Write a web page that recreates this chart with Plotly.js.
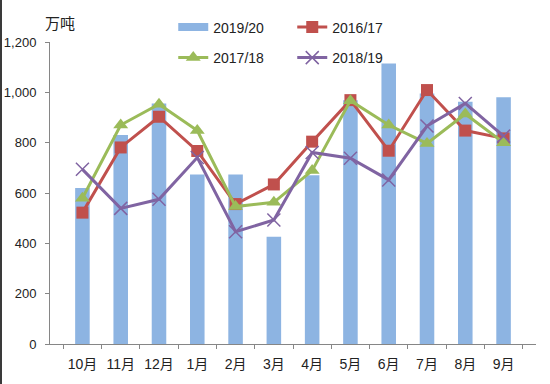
<!DOCTYPE html>
<html>
<head>
<meta charset="utf-8">
<script src="https://cdn.plot.ly/plotly-3.0.1.min.js"></script>
<style>
  html, body { margin: 0; padding: 0; background: #fff; }
  #chart { width: 550px; height: 384px; }
  #edge { position: absolute; left: 0; top: 0; width: 2px; height: 384px; background: #3a3a3a; }
</style>
</head>
<body>
<div id="chart"></div>
<div id="edge"></div>
<script>
const months = ["10月","11月","12月","1月","2月","3月","4月","5月","6月","7月","8月","9月"];
const s1920 = [620, 830, 956, 674, 674, 426, 671, 969, 1115, 995, 963, 980];
const s1617 = [522, 781, 903, 767, 556, 634, 804, 969, 768, 1009, 848, 817];
const s1718 = [579, 870, 953, 848, 546, 563, 689, 967, 870, 797, 914, 800];
const s1819 = [694, 539, 575, 741, 446, 493, 761, 738, 652, 866, 956, 826];
const yTicks = [0, 200, 400, 600, 800, 1000, 1200];

const font = "Liberation Sans, Noto Sans CJK SC, sans-serif";
const barColor = "#8DB4E2";

const traces = [
  { type: "bar", name: "2019/20", x: months, y: s1920,
    marker: { color: barColor }, showlegend: false },
  // legend-only entry giving the wide rectangular swatch of the bar series
  { type: "scatter", mode: "lines", name: "2019/20", x: [null], y: [null],
    line: { color: barColor, width: 8 }, legend: "legend" },
  { type: "scatter", mode: "lines+markers", name: "2016/17", x: months, y: s1617,
    line: { color: "#C0504D", width: 3 }, marker: { symbol: "square", size: 12, color: "#C0504D" }, legend: "legend" },
  { type: "scatter", mode: "lines+markers", name: "2017/18", x: months, y: s1718,
    line: { color: "#9BBB59", width: 3 }, marker: { symbol: "triangle-up", size: 13, color: "#9BBB59" }, legend: "legend2" },
  { type: "scatter", mode: "lines+markers", name: "2018/19", x: months, y: s1819,
    line: { color: "#8064A2", width: 3 }, marker: { symbol: "x-thin", size: 13, line: { color: "#8064A2", width: 1.5 } }, legend: "legend2" }
];

const legendCommon = {
  orientation: "h", xref: "paper", yref: "paper", xanchor: "left", yanchor: "middle",
  font: { family: font, size: 14, color: "#222" }, bgcolor: "rgba(0,0,0,0)",
  entrywidth: 74, entrywidthmode: "pixels", itemwidth: 30, tracegroupgap: 0
};

const layout = {
  width: 550, height: 384,
  margin: { l: 50, r: 14, t: 42, b: 40 },
  paper_bgcolor: "#fff", plot_bgcolor: "#fff",
  bargap: 0.62,
  showlegend: true,
  legend: Object.assign({}, legendCommon, { x: 0.2536, y: 1.048 }),
  legend2: Object.assign({}, legendCommon, { x: 0.2536, y: 0.947 }),
  xaxis: {
    type: "category", tickson: "boundaries", ticks: "outside", ticklen: 4, tickangle: 0,
    tickcolor: "#868686", showline: true, linecolor: "#868686", linewidth: 1,
    showgrid: false, ticklabelstandoff: 7,
    tickfont: { family: font, size: 14, color: "#222" }
  },
  yaxis: {
    range: [0, 1200], tickvals: yTicks, tickformat: ",d", ticks: "outside", ticklen: 4,
    tickcolor: "#868686", showline: true, linecolor: "#868686", linewidth: 1,
    showgrid: false, zeroline: false, ticklabelstandoff: 6,
    tickfont: { family: font, size: 13, color: "#222" }
  },
  annotations: [{
    text: "万吨", xref: "paper", yref: "paper", x: -0.015, y: 1.06,
    xanchor: "left", yanchor: "middle", showarrow: false,
    font: { family: font, size: 15, color: "#222" }
  }]
};

Plotly.newPlot("chart", traces, layout, { displayModeBar: false, staticPlot: true });
</script>
</body>
</html>
